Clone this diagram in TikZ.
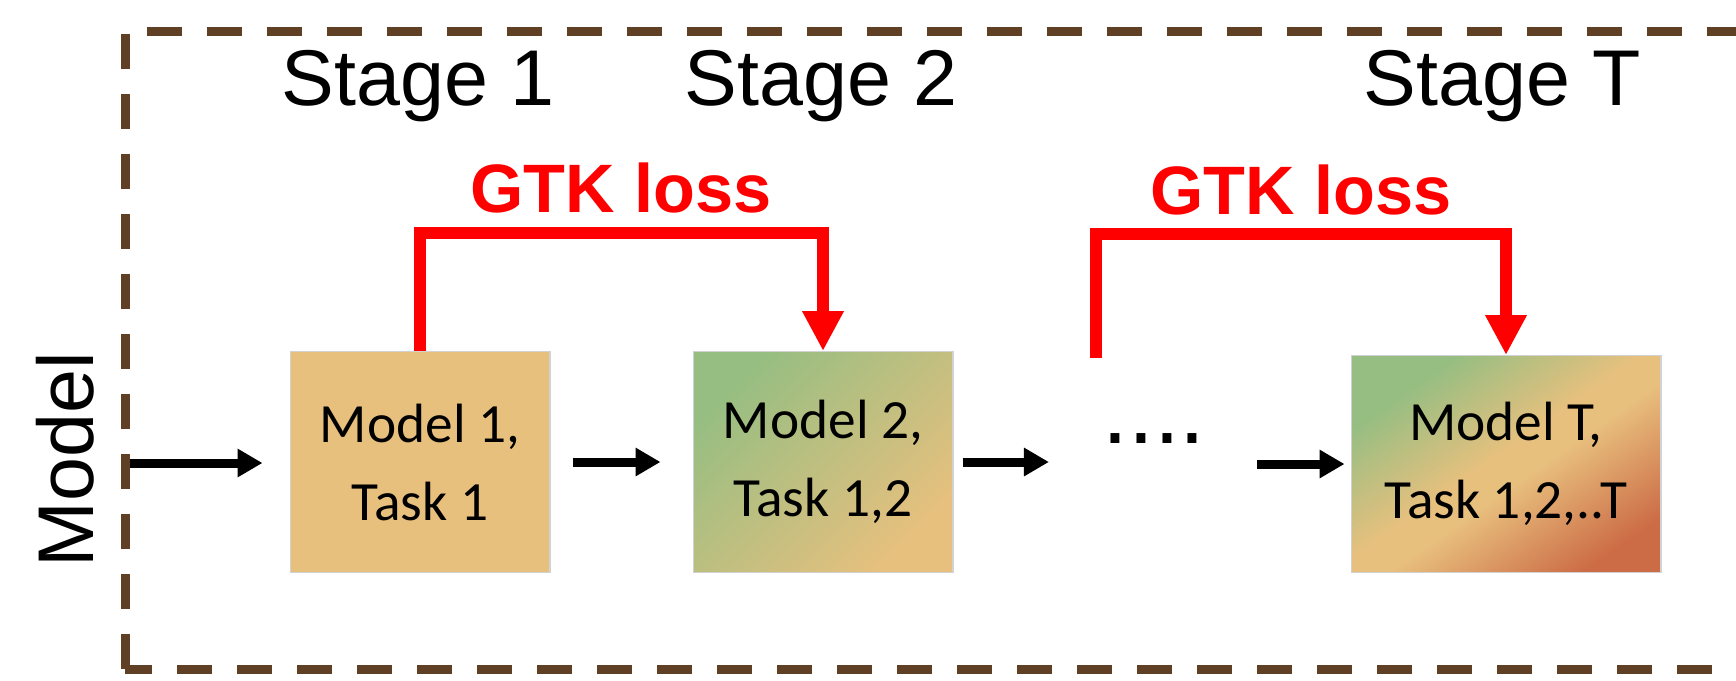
\documentclass[tikz,border=0pt]{standalone}
\usepackage{fontspec}
\setmainfont{Liberation Sans}
\newfontfamily\boxfont{Carlito}
\usepackage{tikz}
\usetikzlibrary{arrows.meta, positioning}
\definecolor{frmbrown}{RGB}{96,64,36}
\definecolor{mdltan}{RGB}{232,192,126}
\definecolor{mdlgreen}{RGB}{150,190,130}
\definecolor{mdlred}{RGB}{204,108,70}
\definecolor{lossred}{RGB}{255,0,0}
\pgfdeclarehorizontalshading{greentan}{100bp}{color(0bp)=(mdlgreen); color(25bp)=(mdlgreen); color(75bp)=(mdltan); color(100bp)=(mdltan)}
\pgfdeclarehorizontalshading{greentanred}{100bp}{color(0bp)=(mdlgreen); color(27bp)=(mdlgreen); color(48bp)=(mdltan); color(54bp)=(mdltan); color(76bp)=(mdlred); color(100bp)=(mdlred)}

\begin{document}
\begin{tikzpicture}[
    x=0.02cm, y=-0.02cm,
    box/.style={rectangle, draw=gray!35, line width=0.6pt, minimum width=5.2cm, minimum height=4.42cm, align=center, font=\boxfont\fontsize{31.5}{44.4}\selectfont},
    stagelbl/.style={anchor=base, font=\fontsize{45}{54}\selectfont},
    losslbl/.style={anchor=base, text=lossred, font=\bfseries\fontsize{39}{46}\selectfont},
    flow/.style={-{Triangle[length=0.5cm, width=0.54cm]}, line width=0.18cm},
    gtk/.style={-{Triangle[length=0.8cm, width=0.78cm]}, draw=lossred, line width=0.24cm},
    frame/.style={draw=frmbrown, line width=0.18cm, dash pattern=on 0.7cm off 0.5cm}
]
    \useasboundingbox (0,0) rectangle (1736,680);

    % Outer frame
    \draw[frame] (125,669) rectangle (1780,31);

    % Side and stage labels
    \node[rotate=90, anchor=base, font=\fontsize{45}{54}\selectfont] (side) at (93,460) {Model};
    \node[stagelbl] (s1) at (418,105) {Stage 1};
    \node[stagelbl] (s2) at (821,105) {Stage 2};
    \node[stagelbl] (sT) at (1502,105) {Stage T};

    % Models
    \node[box, fill=mdltan] (b1) at (420,462) {Model 1,\\Task 1};
    \node[box, shading=greentan, shading angle=-45] (b2) at (823,462) {Model 2,\\Task 1,2};
    \node[box, shading=greentanred, shading angle=-55, minimum width=6.2cm, minimum height=4.34cm] (bT) at (1506,464) {Model T,\\Task 1,2,..T};
    \node[anchor=base, inner sep=0pt, font=\fontsize{53}{60}\selectfont] (dots) at (1154,443) {....};

    % Forward arrows
    \coordinate (inp) at (130,463);
    \draw[flow, shorten >=0.54cm] (inp) -- (inp -| b1.west);
    \draw[flow, shorten <=0.44cm, shorten >=0.64cm] (b1.east) -- (b2.west);
    \draw[flow, shorten <=0.18cm, shorten >=1.06cm] (b2.east) -- (b2.east -| dots.west);
    \draw[flow, shorten <=1.02cm, shorten >=0.12cm] (bT.west -| dots.east) -- (bT.west);

    % GTK loss
    \coordinate (r2) at (1096,358);
    \draw[gtk] (b1.north) -- ++(0,-118) -| (b2.north);
    \draw[gtk] (r2) -- ++(0,-124) -| (bT.north);
    \node[losslbl] (l1) at (621,212) {GTK loss};
    \node[losslbl] (l2) at (1301,214) {GTK loss};
\end{tikzpicture}
\end{document}
